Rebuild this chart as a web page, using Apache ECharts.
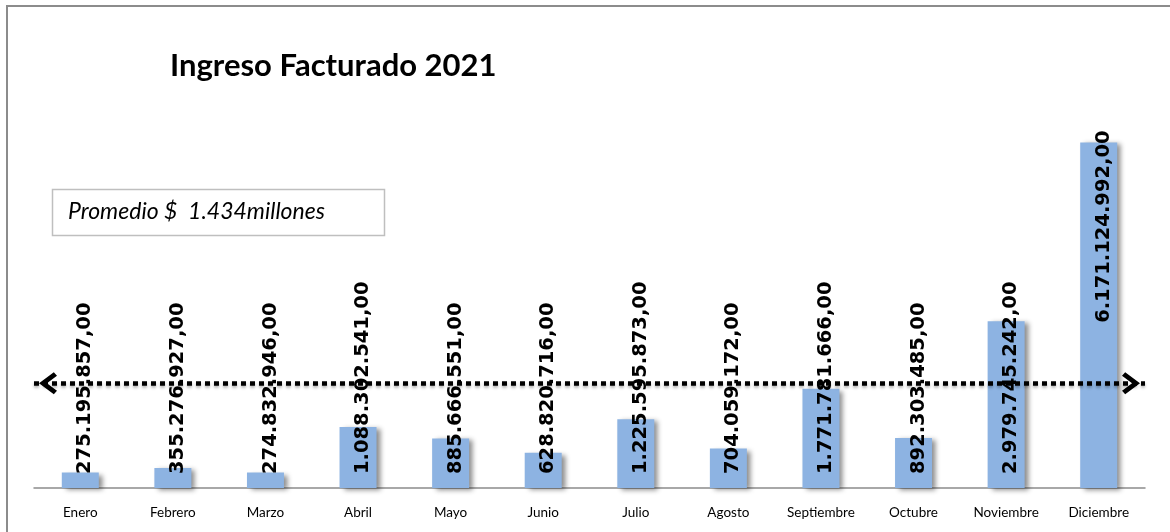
<!DOCTYPE html>
<html>
<head>
<meta charset="utf-8">
<script src="https://cdn.jsdelivr.net/npm/echarts@6/dist/echarts.min.js"></script>
<style>
  html, body { margin: 0; padding: 0; background: #fff; }
  #main { width: 1170px; height: 532px; }
</style>
</head>
<body>
<div id="main"></div>
<script>
  // datos
  var meses = ['Enero', 'Febrero', 'Marzo', 'Abril', 'Mayo', 'Junio', 'Julio', 'Agosto',
    'Septiembre', 'Octubre', 'Noviembre', 'Diciembre']
  var ingresos = [275195857, 355276927, 274832946, 1088302541, 885666551, 628820716,
    1225595873, 704059172, 1771781666, 892303485, 2979745242, 6171124992]
  var lineaPromedio = 1870000000 // linea punteada dibujada en el original
  var textoPromedio = 'Promedio $  1.434millones'

  function formato(v) {
    var s = Math.round(v).toString()
    return s.replace(/\B(?=(\d{3})+(?!\d))/g, '.') + ',00'
  }

  var chevron = 'path://M0,14 L11,0 L22,14 L18.5,17 L11,7.5 L3.5,17 Z'

  var datos = ingresos.map(function (v) {
    var item = { value: v }
    if (v > 4000000000) {
      // barra alta: etiqueta en el extremo superior
      item.label = { position: 'top', distance: 12, align: 'right' }
    }
    return item
  })

  var myChart = echarts.init(document.getElementById('main'))
  var option = {
    animation: false,
    title: {
      text: 'Ingreso Facturado 2021',
      left: 170,
      top: 50,
      padding: 0,
      textStyle: {
        fontFamily: 'Lato',
        fontWeight: 'bold',
        fontSize: 31,
        color: '#000'
      }
    },
    graphic: [
      { // marco
        type: 'rect',
        shape: { x: 7, y: 6, width: 1180, height: 540 },
        style: { fill: 'none', stroke: '#8c8c8c', lineWidth: 2 },
        silent: true
      },
      { // cuadro promedio
        type: 'rect',
        shape: { x: 52.5, y: 189.5, width: 332, height: 46 },
        style: { fill: '#fff', stroke: '#bfbfbf', lineWidth: 1.5 },
        z: 10
      },
      {
        type: 'text',
        left: 68,
        top: 200,
        style: {
          text: textoPromedio,
          fontFamily: 'Lato',
          fontStyle: 'italic',
          fontSize: 23,
          fill: '#000'
        },
        z: 11
      }
    ],
    grid: { left: 34, right: 25, top: 96, bottom: 44 },
    xAxis: {
      type: 'category',
      data: meses,
      axisLine: { lineStyle: { color: '#8c8c8c', width: 1.5 } },
      axisTick: { show: false },
      axisLabel: {
        margin: 18,
        fontFamily: 'Lato',
        fontSize: 13.5,
        color: '#000'
      }
    },
    yAxis: {
      type: 'value',
      min: 0,
      max: 7000000000,
      show: false,
      splitLine: { show: false }
    },
    series: [
      {
        type: 'bar',
        data: datos,
        barWidth: 37,
        itemStyle: {
          color: '#8db3e2',
          shadowColor: 'rgba(0, 0, 0, 0.45)',
          shadowBlur: 5,
          shadowOffsetX: 4,
          shadowOffsetY: 2
        },
        label: {
          show: true,
          position: 'insideBottom',
          distance: 14,
          rotate: 90,
          align: 'left',
          verticalAlign: 'middle',
          offset: [0, 5],
          fontFamily: 'DejaVu Sans',
          fontWeight: 'bold',
          fontSize: 19.5,
          color: '#000',
          formatter: function (p) { return formato(p.value) }
        },
        markLine: {
          silent: true,
          symbol: [chevron, chevron],
          symbolSize: [22, 18],
          symbolOffset: [[0, 14], [0, 14]],
          label: { show: false },
          lineStyle: {
            color: '#000',
            width: 4.5,
            type: [5, 4],
            shadowColor: 'rgba(0, 0, 0, 0.3)',
            shadowBlur: 3,
            shadowOffsetY: 2
          },
          data: [{ yAxis: lineaPromedio }]
        }
      }
    ]
  }
  myChart.setOption(option)
</script>
</body>
</html>
